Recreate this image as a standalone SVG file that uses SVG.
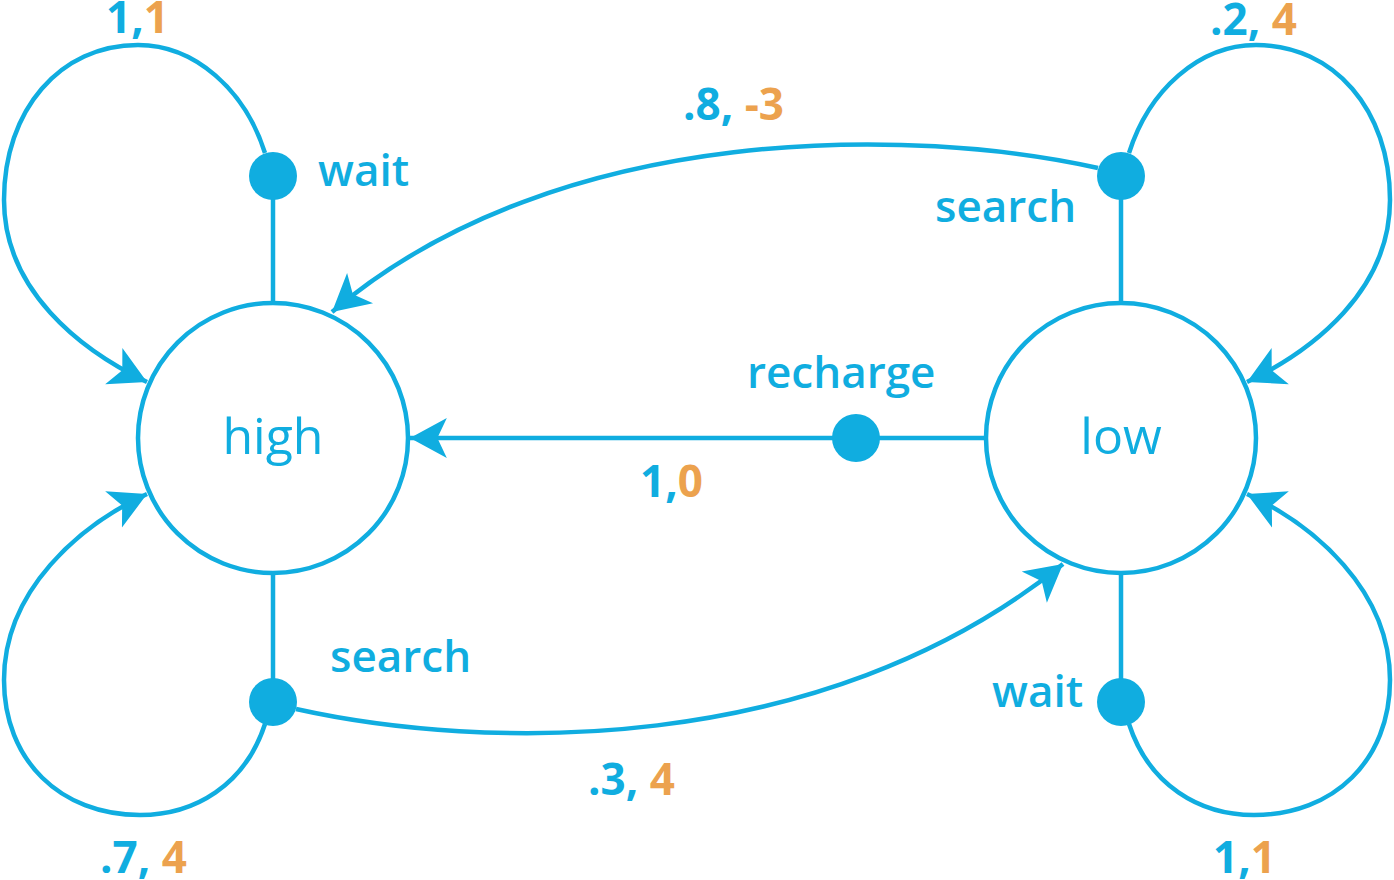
<svg xmlns="http://www.w3.org/2000/svg" width="1394" height="880" viewBox="0 0 1394 880">
<style>
.edge{fill:none;stroke:#10ade0;stroke-width:4.5}
.state{fill:#fff;stroke:#10ade0;stroke-width:4.5}
.dot{fill:#10ade0}
.lbl{font-family:"Open Sans","Liberation Sans",sans-serif;font-size:44px;font-weight:600;fill:#10ade0}
.big{font-family:"Open Sans","Liberation Sans",sans-serif;font-size:50px;fill:#10ade0;text-anchor:middle}
.num{font-family:"Open Sans","Liberation Sans",sans-serif;font-size:44px;font-weight:700;fill:#10ade0}
.o{fill:#eca24e}
</style>
<defs>
<marker id="arr" markerUnits="userSpaceOnUse" markerWidth="40" markerHeight="44" viewBox="-36 -20 38 40" refX="0" refY="0" orient="auto">
<path d="M0,0 L-35,-19 L-26,0 L-35,19 Z" fill="#10ade0"/>
</marker>
</defs>
<rect width="1394" height="880" fill="#fff"/>
<g id="connectors">
<line class="edge" x1="273" y1="302" x2="273" y2="176"/>
<line class="edge" x1="273" y1="573" x2="273" y2="702"/>
<line class="edge" x1="1121" y1="302" x2="1121" y2="176"/>
<line class="edge" x1="1121" y1="573" x2="1121" y2="702"/>
<line class="edge" x1="987" y1="438" x2="856" y2="438"/>
<path class="edge" d="M856,438 L410,438" marker-end="url(#arr)"/>
<path class="edge" d="M265,153 C245,90 195,45 138,45 C60,45 4,110 4,200 C4,290 80,350 147,382" marker-end="url(#arr)"/>
<path class="edge" d="M265,724 C245,785 195,815 140,815 C60,815 4,760 4,680 C4,590 80,525 147,494" marker-end="url(#arr)"/>
<path class="edge" d="M1129,153 C1149,90 1199,45 1256,45 C1334,45 1390,110 1390,200 C1390,290 1314,350 1247,382" marker-end="url(#arr)"/>
<path class="edge" d="M1129,724 C1149,785 1199,815 1254,815 C1334,815 1390,760 1390,680 C1390,590 1314,525 1247,494" marker-end="url(#arr)"/>
<path class="edge" d="M1098,168 C920,128 560,118 332,312" marker-end="url(#arr)"/>
<path class="edge" d="M296,709 C480,750 820,760 1063,564" marker-end="url(#arr)"/>
</g>
<g id="high">
<circle class="state" cx="273" cy="438" r="135"/>
<text class="big" x="273" y="454">high</text>
</g>
<g id="low">
<circle class="state" cx="1121" cy="438" r="135"/>
<text class="big" x="1121" y="454">low</text>
</g>
<g id="high-wait">
<circle class="dot" cx="273" cy="176" r="24"/>
<text class="lbl" x="318" y="186">wait</text>
</g>
<g id="high-search">
<circle class="dot" cx="273" cy="702" r="24"/>
<text class="lbl" x="330" y="672">search</text>
</g>
<g id="low-search">
<circle class="dot" cx="1121" cy="176" r="24"/>
<text class="lbl" x="935" y="222">search</text>
</g>
<g id="low-wait">
<circle class="dot" cx="1121" cy="702" r="24"/>
<text class="lbl" x="992" y="707">wait</text>
</g>
<g id="low-recharge">
<circle class="dot" cx="856" cy="438" r="24"/>
<text class="lbl" x="747" y="388">recharge</text>
</g>
<g id="labels">
<text class="num" x="106" y="33">1,<tspan class="o">1</tspan></text>
<text class="num" x="683" y="120">.8, <tspan class="o">-3</tspan></text>
<text class="num" x="1210" y="35">.2, <tspan class="o">4</tspan></text>
<text class="num" x="640" y="497">1,<tspan class="o">0</tspan></text>
<text class="num" x="588" y="795">.3, <tspan class="o">4</tspan></text>
<text class="num" x="100" y="873">.7, <tspan class="o">4</tspan></text>
<text class="num" x="1213" y="873">1,<tspan class="o">1</tspan></text>
</g>
</svg>
